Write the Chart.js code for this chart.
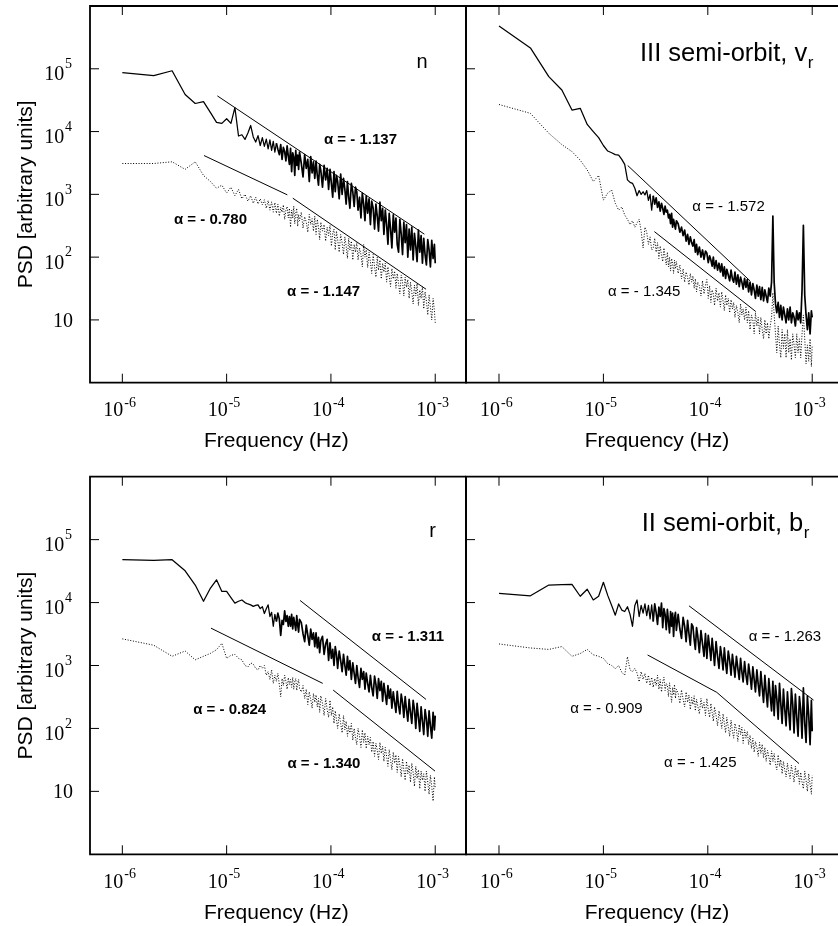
<!DOCTYPE html>
<html>
<head>
<meta charset="utf-8">
<script src="https://cdn.jsdelivr.net/npm/chart.js@4.4.1/dist/chart.umd.min.js"></script>
<style>
  body { margin: 0; background: #fff; }
  #hoja { position: relative; width: 838px; height: 926px; overflow: hidden; background: #fff; }
  canvas { position: absolute; }
</style>
</head>
<body>
<div id="hoja">
  <canvas id="pN" width="470" height="463" style="left:0;top:0"></canvas>
  <canvas id="pV" width="376" height="463" style="left:462px;top:0"></canvas>
  <canvas id="pR" width="470" height="463" style="left:0;top:463px"></canvas>
  <canvas id="pB" width="376" height="463" style="left:462px;top:463px"></canvas>
</div>
<script>
// frecuencias (Hz), comunes a todas las series
const freq = [
  1e-6, 2e-6, 3e-6, 4e-6, 5e-6, 6e-6, 7e-6, 8e-6, 9e-6, 10e-6,
  11e-6, 12e-6, 13e-6, 14e-6, 15e-6, 16e-6, 17e-6, 18e-6, 19e-6, 20e-6,
  21e-6, 22e-6, 23e-6, 24e-6, 25e-6, 26e-6, 27e-6, 28e-6, 29e-6, 30e-6,
  31e-6, 32e-6, 33e-6, 34e-6, 35e-6, 36e-6, 37e-6, 38e-6, 39e-6, 40e-6,
  41e-6, 42e-6, 43e-6, 44e-6, 45e-6, 46e-6, 47e-6, 48e-6, 49e-6, 50e-6,
  52e-6, 54e-6, 56e-6, 58e-6, 60e-6, 62e-6, 64e-6, 66e-6, 68e-6, 70e-6,
  72e-6, 74e-6, 76e-6, 78e-6, 80e-6, 83e-6, 86e-6, 89e-6, 92e-6, 95e-6,
  98e-6, 101e-6, 104e-6, 107e-6, 110e-6, 113e-6, 116e-6, 120e-6, 124e-6, 128e-6,
  132e-6, 136e-6, 140e-6, 144e-6, 148e-6, 152e-6, 157e-6, 162e-6, 167e-6, 172e-6,
  177e-6, 182e-6, 188e-6, 194e-6, 200e-6, 206e-6, 212e-6, 218e-6, 225e-6, 232e-6,
  239e-6, 246e-6, 254e-6, 262e-6, 270e-6, 278e-6, 286e-6, 295e-6, 304e-6, 313e-6,
  322e-6, 332e-6, 342e-6, 352e-6, 362e-6, 373e-6, 384e-6, 396e-6, 408e-6, 420e-6,
  432e-6, 445e-6, 458e-6, 472e-6, 486e-6, 500e-6, 515e-6, 530e-6, 546e-6, 562e-6,
  579e-6, 596e-6, 614e-6, 632e-6, 651e-6, 670e-6, 690e-6, 711e-6, 732e-6, 754e-6,
  776e-6, 799e-6, 823e-6, 848e-6, 873e-6, 899e-6, 926e-6, 954e-6, 982e-6, 1000e-6
];

// panel n
const nSolid = [
  87000, 78000, 93000, 39000, 28000, 30000, 20000, 14000, 13500, 16000,
  13500, 24000, 8500, 8900, 7500, 9500, 12500, 8200, 6800, 8600,
  6000, 8000, 5800, 7600, 5300, 7400, 5000, 7000, 4700, 6500,
  5200, 4300, 6200, 3600, 5600, 4800, 3400, 5900, 4100, 3000,
  5400, 2300, 4600, 3900, 2000, 5000, 2900, 4200, 2500, 4700,
  3100, 1900, 4300, 2600, 3600, 1600, 4000, 2200, 3300, 1800,
  3400, 2000, 1400, 3000, 2400, 1300, 2900, 1700, 2600, 1200,
  2500, 1500, 900, 2300, 1100, 2000, 1600, 850, 2100, 1000,
  1800, 1200, 700, 1600, 900, 600, 1500, 1100, 640, 1300,
  1100, 560, 900, 420, 1050, 700, 380, 950, 500, 850,
  330, 780, 600, 280, 700, 450, 260, 750, 380, 600,
  230, 560, 330, 160, 500, 280, 140, 470, 250, 420,
  160, 120, 400, 230, 110, 360, 170, 330, 100, 280,
  130, 300, 90, 240, 150, 85, 270, 120, 220, 80,
  200, 110, 75, 190, 130, 70, 185, 95, 160, 80
];
const nDot = [
  3100, 3100, 3300, 2500, 3300, 2000, 1600, 1250, 1400, 1050,
  1300, 950, 1200, 850, 1000, 780, 950, 720, 900, 700,
  850, 680, 820, 600, 800, 560, 760, 520, 740, 500,
  700, 450, 620, 520, 680, 400, 560, 640, 420, 600,
  300, 560, 420, 650, 340, 500, 600, 310, 480, 380,
  520, 290, 440, 360, 250, 480, 330, 410, 260, 450,
  230, 400, 300, 190, 360, 260, 330, 180, 300, 220,
  320, 150, 240, 280, 130, 260, 190, 120, 230, 170,
  110, 210, 150, 95, 200, 130, 180, 90, 160, 120,
  170, 90, 140, 110, 70, 160, 100, 130, 68, 120,
  85, 55, 110, 70, 48, 100, 62, 90, 45, 80,
  58, 80, 40, 70, 50, 34, 66, 45, 60, 32,
  55, 38, 26, 52, 40, 24, 48, 33, 44, 22,
  40, 28, 18, 36, 24, 38, 17, 30, 22, 34,
  15, 28, 20, 12, 25, 16, 10, 22, 14, 9
];
const nFitHigh = [[8.15e-6, 37000], [7.87e-4, 232]];
const nFitLow1 = [[6.07e-6, 4150], [3.82e-5, 982]];
const nFitLow2 = [[4.31e-5, 869], [8.17e-4, 30.8]];
const nAlpha = ['α = - 1.137', 'α = - 0.780', 'α = - 1.147'];

// panel III semi-orbit, v_r
const vrSolid = [
  480000, 215000, 75000, 46000, 22000, 23500, 13000, 10000, 8000, 6000,
  4900, 4600, 4300, 4200, 3600, 3000, 1700, 1550, 1500, 1250,
  950, 1150, 1000, 1100, 980, 1150, 800, 1000, 560, 950,
  700, 880, 620, 760, 540, 720, 600, 480, 650, 520,
  560, 420, 480, 340, 500, 300, 400, 330, 280, 380,
  340, 250, 300, 220, 270, 180, 230, 160, 210, 170,
  150, 190, 120, 160, 110, 145, 100, 130, 92, 125,
  115, 82, 105, 90, 72, 100, 66, 88, 62, 80,
  58, 78, 50, 70, 46, 64, 52, 42, 62, 45,
  40, 58, 37, 52, 34, 48, 40, 31, 46, 33,
  44, 28, 40, 25, 38, 30, 22, 36, 24, 34,
  21, 33, 20, 30, 24, 19, 32, 24, 40, 450,
  40, 18, 13, 19, 11, 17, 10, 16, 12, 9,
  15, 10, 16, 9, 13, 11, 8, 14, 10, 13,
  9, 30, 320, 25, 12, 7, 13, 6, 14, 11
];
const vrDot = [
  27000, 19500, 9400, 6200, 4800, 3500, 2450, 1600, 2000, 810,
  1050, 1170, 720, 560, 630, 470, 400, 330, 380, 300,
  350, 400, 260, 140, 300, 250, 160, 210, 130, 140,
  200, 120, 170, 95, 150, 110, 85, 140, 100, 75,
  120, 70, 100, 60, 95, 80, 55, 90, 65, 85,
  55, 75, 45, 65, 40, 58, 48, 36, 55, 40,
  50, 32, 45, 28, 40, 35, 24, 42, 26, 36,
  44, 22, 35, 19, 30, 26, 17, 32, 20, 27,
  16, 28, 20, 14, 25, 17, 22, 13, 21, 15,
  19, 11, 17, 13, 9, 18, 12, 15, 10, 16,
  9, 14, 7, 12, 10, 6, 13, 8, 11, 6,
  11, 7, 5, 10, 6, 9, 5, 8, 11, 27,
  12, 6, 3, 8, 4, 2.5, 7, 3.5, 6, 2.5,
  7, 3, 5, 2.3, 6, 4, 2.5, 6, 3, 5,
  2.5, 6, 12, 5, 2, 4, 2.2, 5, 1.8, 4
];
const vrFitHigh = [[1.71e-5, 2880], [2.54e-4, 41.8]];
const vrFitLow = [[3.08e-5, 255], [2.88e-4, 13.6]];
const vrAlpha = ['α = - 1.572', 'α = - 1.345'];

// panel r
const rSolid = [
  48000, 47000, 48000, 32000, 19000, 10500, 17000, 23000, 15000, 15000,
  12000, 9800, 10500, 11000, 10000, 9500, 9200, 8700, 9000, 9200,
  8000, 8600, 6700, 8000, 9200, 6000, 7000, 4200, 6500, 5000,
  6800, 5500, 3000, 5200, 4500, 7400, 5000, 6200, 4200, 6000,
  4200, 6500, 3800, 5800, 4600, 3600, 6200, 4400, 3400, 5400,
  4800, 3200, 2400, 4400, 3000, 2100, 3800, 2600, 3300, 2000,
  3300, 1900, 2800, 1600, 2500, 2900, 1500, 2200, 2600, 1200,
  2300, 1300, 1800, 1000, 2000, 1500, 900, 1700, 1200, 800,
  1500, 1000, 700, 1400, 850, 1200, 600, 1100, 750, 520,
  1000, 650, 450, 900, 600, 800, 420, 760, 520, 380,
  700, 450, 330, 680, 500, 300, 620, 400, 560, 270,
  520, 350, 240, 480, 300, 420, 210, 380, 260, 180,
  390, 230, 170, 350, 260, 150, 320, 200, 130, 290,
  180, 120, 280, 200, 100, 250, 150, 90, 220, 130,
  80, 200, 140, 75, 190, 110, 70, 180, 95, 160
];
const rDot = [
  2650, 2100, 1400, 1700, 1230, 1400, 1560, 1780, 2250, 1300,
  1450, 1500, 1300, 1230, 1000, 950, 1100, 1050, 900, 850,
  1000, 900, 1000, 700, 800, 600, 850, 520, 700, 560,
  750, 500, 320, 620, 480, 700, 560, 420, 640, 500,
  600, 450, 650, 420, 560, 620, 400, 520, 600, 430,
  380, 480, 300, 420, 240, 380, 290, 210, 360, 260,
  340, 220, 300, 180, 330, 250, 160, 300, 200, 150,
  280, 160, 220, 120, 190, 140, 100, 170, 120, 85,
  160, 95, 130, 75, 110, 85, 120, 65, 100, 70,
  55, 100, 75, 50, 95, 60, 85, 48, 75, 55,
  72, 42, 62, 36, 58, 45, 32, 60, 40, 52,
  30, 50, 36, 25, 46, 32, 22, 42, 28, 38,
  20, 36, 26, 17, 33, 22, 15, 30, 19, 26,
  14, 28, 20, 12, 25, 16, 22, 11, 21, 15,
  19, 10, 21, 14, 9, 18, 12, 7, 17, 11
];
const rFitHigh = [[5.06e-5, 10800], [8.17e-4, 289]];
const rFitLow1 = [[7.08e-6, 3920], [8.34e-5, 520]];
const rFitLow2 = [[1.05e-4, 407], [9.95e-4, 21]];
const rAlpha = ['α = - 1.311', 'α = - 0.824', 'α = - 1.340'];

// panel II semi-orbit, b_r
const brSolid = [
  14000, 12800, 19000, 19200, 19500, 12600, 16300, 11000, 12600, 21000,
  13000, 9000, 6300, 9500, 7600, 7200, 8600, 6500, 4200, 9000,
  11000, 6000, 9000, 6800, 9500, 6200, 9000, 5500, 9200, 5000,
  9500, 7000, 4500, 8500, 6000, 9800, 4000, 8000, 6500, 3700,
  7800, 5000, 3300, 7200, 4200, 6800, 2900, 5800, 7000, 3600,
  6500, 3800, 2700, 5800, 4200, 2400, 5200, 3200, 2100, 4600,
  4200, 2600, 1800, 4000, 3000, 1600, 3600, 2200, 1400, 3200,
  1300, 3000, 2000, 1200, 2700, 1700, 1000, 2400, 1400, 900,
  2000, 1400, 850, 1900, 1100, 750, 1700, 1200, 700, 1500,
  1000, 650, 1400, 900, 600, 1300, 800, 550, 1150, 700,
  500, 1050, 700, 420, 950, 600, 380, 850, 500, 330,
  800, 450, 260, 700, 380, 220, 620, 330, 190, 560,
  160, 480, 300, 140, 520, 250, 120, 420, 200, 110,
  380, 180, 95, 430, 240, 85, 350, 150, 75, 320,
  200, 70, 440, 120, 60, 330, 160, 55, 280, 90
];
const brDot = [
  2200, 1900, 1800, 2000, 1400, 1550, 1800, 1480, 1400, 1300,
  1070, 1000, 890, 1000, 780, 700, 1380, 850, 800, 900,
  760, 550, 800, 600, 750, 520, 700, 480, 650, 450,
  620, 480, 700, 420, 600, 380, 550, 650, 400, 520,
  480, 320, 530, 380, 260, 450, 340, 500, 300, 420,
  360, 250, 410, 290, 220, 380, 260, 340, 200, 310,
  240, 330, 190, 290, 230, 170, 300, 210, 260, 160,
  300, 200, 150, 250, 180, 130, 220, 160, 110, 190,
  140, 100, 170, 120, 85, 150, 105, 75, 135, 90,
  70, 120, 95, 62, 115, 80, 105, 58, 95, 70,
  90, 55, 78, 48, 70, 42, 62, 50, 36, 60,
  40, 56, 34, 50, 30, 45, 36, 26, 44, 30,
  40, 27, 22, 38, 25, 32, 19, 30, 22, 17,
  28, 20, 16, 26, 19, 14, 25, 17, 22, 13,
  20, 14, 11, 21, 15, 10, 19, 13, 9, 18
];
const brFitHigh = [[6.61e-5, 8870], [1.03e-3, 282]];
const brFitLow = [[2.65e-5, 1470], [1.22e-4, 374], [7.48e-4, 27.6]];
const brAlpha = ['α = - 1.263', 'α = - 0.909', 'α = - 1.425'];

// ejes
const xTicks = [1e-6, 1e-5, 1e-4, 1e-3];
const xTickExp = ['-6', '-5', '-4', '-3'];
const yTicks = [10, 100, 1000, 10000, 100000];
const yTickExp = ['', '2', '3', '4', '5'];

const SANS = '"Liberation Sans", Arial, sans-serif';
const SERIF = '"Liberation Serif", "Times New Roman", serif';

// textos de cada panel
const paneles = {
  pN: {
    caja: true, ejeY: true, xTitulo: 3.0e-5, negrita: true,
    notas: [[nAlpha[0], 1.92e-4, 7380], [nAlpha[1], 7.0e-6, 393], [nAlpha[2], 8.5e-5, 28.3]],
    etiqueta: ['n', 7.46e-4, 102500]
  },
  pV: {
    caja: false, ejeY: false, xTitulo: 3.26e-5, negrita: false,
    notas: [[vrAlpha[0], 1.58e-4, 640], [vrAlpha[1], 2.46e-5, 28.3]],
    titulo: ['III semi-orbit, v', 'r', 2.24e-5, 130700]
  },
  pR: {
    caja: true, ejeY: true, xTitulo: 3.0e-5, negrita: true,
    notas: [[rAlpha[0], 5.47e-4, 2880], [rAlpha[1], 1.07e-5, 200], [rAlpha[2], 8.57e-5, 27.6]],
    etiqueta: ['r', 9.42e-4, 110400]
  },
  pB: {
    caja: false, ejeY: false, xTitulo: 3.26e-5, negrita: false,
    notas: [[brAlpha[0], 5.48e-4, 2880], [brAlpha[1], 1.07e-5, 208], [brAlpha[2], 8.47e-5, 28.3]],
    titulo: ['II semi-orbit, b', 'r', 2.33e-5, 135500]
  }
};

const marco = {
  id: 'marco',
  afterDatasetsDraw(chart) {
    const p = paneles[chart.canvas.id];
    const ctx = chart.ctx;
    const a = chart.chartArea;
    const sx = chart.scales.x, sy = chart.scales.y;
    ctx.save();
    ctx.strokeStyle = '#000';
    ctx.lineWidth = 1.8;
    ctx.beginPath();
    ctx.moveTo(a.right, a.top);
    ctx.lineTo(a.left, a.top);
    ctx.lineTo(a.left, a.bottom);
    ctx.lineTo(a.right, a.bottom);
    if (p.caja) ctx.lineTo(a.right, a.top);
    ctx.stroke();

    // marcas hacia dentro
    ctx.lineWidth = 1;
    ctx.beginPath();
    xTicks.forEach(v => {
      const x = sx.getPixelForValue(v);
      ctx.moveTo(x, a.bottom); ctx.lineTo(x, a.bottom - 9);
      ctx.moveTo(x, a.top); ctx.lineTo(x, a.top + 9);
    });
    yTicks.forEach(v => {
      const y = sy.getPixelForValue(v);
      ctx.moveTo(a.left, y); ctx.lineTo(a.left + 9, y);
    });
    ctx.stroke();

    ctx.fillStyle = '#000';
    ctx.textAlign = 'left';
    ctx.textBaseline = 'alphabetic';
    xTicks.forEach((v, i) => {
      const x = sx.getPixelForValue(v) - 19;
      ctx.font = '20px ' + SERIF;
      ctx.fillText('10', x, a.bottom + 33.3);
      const w = ctx.measureText('10').width;
      ctx.font = '14px ' + SERIF;
      ctx.fillText(xTickExp[i], x + w + 1, a.bottom + 24);
    });

    if (p.ejeY) {
      yTicks.forEach((v, i) => {
        const y = sy.getPixelForValue(v);
        ctx.font = '20px ' + SERIF;
        if (yTickExp[i] === '') {
          ctx.fillText('10', a.left - 37, y + 7);
        } else {
          ctx.fillText('10', a.left - 45.7, y + 11.7);
          ctx.font = '14px ' + SERIF;
          ctx.fillText(yTickExp[i], a.left - 25, y - 0.7);
        }
      });
      ctx.save();
      ctx.font = '21px ' + SANS;
      ctx.textAlign = 'center';
      ctx.translate(a.left - 58, (a.top + a.bottom) / 2);
      ctx.rotate(-Math.PI / 2);
      ctx.fillText('PSD [arbitrary units]', 0, 0);
      ctx.restore();
    }

    ctx.font = '21px ' + SANS;
    ctx.textAlign = 'center';
    ctx.fillText('Frequency (Hz)', sx.getPixelForValue(p.xTitulo), a.bottom + 64.7);

    // pendientes
    ctx.font = (p.negrita ? 'bold ' : '') + '15px ' + SANS;
    ctx.textBaseline = 'middle';
    p.notas.forEach(n => {
      ctx.fillText(n[0], sx.getPixelForValue(n[1]), sy.getPixelForValue(n[2]));
    });

    ctx.textBaseline = 'alphabetic';
    if (p.etiqueta) {
      ctx.font = '20px ' + SANS;
      ctx.fillText(p.etiqueta[0], sx.getPixelForValue(p.etiqueta[1]), sy.getPixelForValue(p.etiqueta[2]));
    }
    if (p.titulo) {
      const x = sx.getPixelForValue(p.titulo[2]);
      const y = sy.getPixelForValue(p.titulo[3]);
      ctx.textAlign = 'left';
      ctx.font = '25.5px ' + SANS;
      ctx.fillText(p.titulo[0], x, y);
      const w = ctx.measureText(p.titulo[0]).width;
      ctx.font = '17px ' + SANS;
      ctx.fillText(p.titulo[1], x + w + 0.5, y + 6.6);
    }
    ctx.restore();
  }
};

function puntos(xs, ys) {
  return xs.map((f, i) => ({x: f, y: ys[i]}));
}

// la parte ruidosa (alta frecuencia) se ve como banda negra densa
function grosor(ctx) {
  return ctx.p0.parsed.x >= 3e-5 ? 1.7 : 1.25;
}

function crearPanel(id, solida, punteada, ajustes, padding, xmin, xmax) {
  const datasets = [
    {data: puntos(freq, solida), borderColor: '#000', borderWidth: 1.25, segment: {borderWidth: grosor}},
    {data: puntos(freq, punteada), borderColor: '#000', borderWidth: 1, borderDash: [1, 1.7]}
  ];
  ajustes.forEach(aj => {
    datasets.push({data: aj.map(p => ({x: p[0], y: p[1]})), borderColor: '#000', borderWidth: 1});
  });
  return new Chart(document.getElementById(id), {
    type: 'line',
    data: {datasets: datasets},
    options: {
      responsive: false,
      animation: false,
      events: [],
      layout: {padding: padding},
      elements: {
        point: {radius: 0},
        line: {tension: 0, borderJoinStyle: 'round', fill: false}
      },
      scales: {
        x: {type: 'logarithmic', min: xmin, max: xmax, display: false},
        y: {type: 'logarithmic', min: 1, max: 1e6, display: false}
      },
      plugins: {legend: {display: false}, tooltip: {enabled: false}}
    },
    plugins: [marco]
  });
}

const xminIzq = Math.pow(10, -6.31), xmaxIzq = Math.pow(10, -2.705);
const xminDer = Math.pow(10, -6.316), xmaxDer = Math.pow(10, -2.753);

crearPanel('pN', nSolid, nDot, [nFitHigh, nFitLow1, nFitLow2],
  {left: 90, top: 6, right: 4, bottom: 80.3}, xminIzq, xmaxIzq);
crearPanel('pV', vrSolid, vrDot, [vrFitHigh, vrFitLow],
  {left: 4, top: 6, right: 0, bottom: 80.3}, xminDer, xmaxDer);
crearPanel('pR', rSolid, rDot, [rFitHigh, rFitLow1, rFitLow2],
  {left: 90, top: 13.7, right: 4, bottom: 71.7}, xminIzq, xmaxIzq);
crearPanel('pB', brSolid, brDot, [brFitHigh, brFitLow],
  {left: 4, top: 13.7, right: 0, bottom: 71.7}, xminDer, xmaxDer);
</script>
</body>
</html>
